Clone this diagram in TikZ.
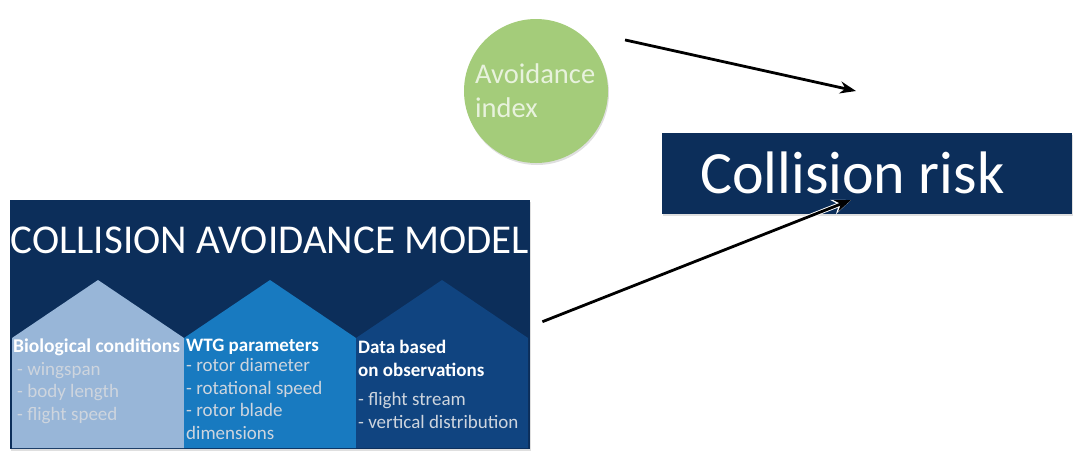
\documentclass[tikz,border=0pt]{standalone}
\usepackage{fontspec}
\setmainfont{Carlito}
\usetikzlibrary{arrows.meta,positioning,shadows}
\definecolor{navy}{RGB}{12,46,90}
\definecolor{bioblue}{RGB}{152,182,216}
\definecolor{wtgblue}{RGB}{24,122,192}
\definecolor{obsblue}{RGB}{16,68,128}
\definecolor{idxgreen}{RGB}{164,204,122}
\tikzset{
  softshadow/.style = {drop shadow={opacity=.25, shadow xshift=1pt, shadow yshift=-2pt}},
  box/.style     = {fill=navy, inner sep=0pt, softshadow},
  coltext/.style = {text=white, align=left, inner sep=0pt,
                    font=\fontsize{19}{22.5}\selectfont},
  arr/.style     = {-{Stealth[length=16pt,width=12pt]}, line width=2.8pt},
  halo/.style    = {-{Stealth[length=19pt,width=15pt]}, line width=4.6pt, white}
}
\newcommand{\itm}[1]{{\color{white!80!navy}#1}}

\begin{document}
\begin{tikzpicture}[x=1pt,y=-1pt]
\useasboundingbox (0,0) rectangle (1075,451);

% avoidance index bubble
\node[circle, fill=idxgreen, minimum size=144pt, inner sep=0pt, softshadow] (idx) at (536,91) {};
% (base of a multi-line node = last line)
\node[text=white, text opacity=.75, align=left, inner sep=0pt, anchor=base west,
      font=\fontsize{28.5}{34}\selectfont] (idxtext) at (475,117) {Avoidance\\index};

% result box
\node[box, anchor=north west, minimum width=410pt, minimum height=81pt] (risk) at (662,133) {};
\node[text=white, anchor=base west, inner sep=0pt,
      font=\fontsize{60}{60}\selectfont] (risktext) at (700,193) {Collision risk};

% model box with the three columns
\node[box, anchor=north west, minimum width=520pt, minimum height=249pt] (model) at (10,200) {};
\node[text=white, anchor=base, inner sep=0pt,
      font=\fontsize{41}{41}\selectfont] (title) at (270,253) {COLLISION AVOIDANCE MODEL};

\foreach \x/\c in {12/bioblue,184/wtgblue,356/obsblue}
  \fill[\c] (\x,448) -- (\x,338) -- (\x+86,280) -- (\x+172,338) -- (\x+172,448) -- cycle;

\node[coltext, anchor=base west] (c1) at (13,420)
  {\textbf{\fontsize{19.5}{22.5}\selectfont Biological conditions}\\
   \itm{\hspace*{4pt}- wingspan}\\
   \itm{\hspace*{4pt}- body length}\\
   \itm{\hspace*{4pt}- flight speed}};
\node[coltext, anchor=base west] (c2) at (186,439)
  {\textbf{WTG parameters}\\[-2.5pt]
   \itm{- rotor diameter}\\
   \itm{- rotational speed}\\
   \itm{- rotor blade}\\
   \itm{dimensions}};
\node[coltext, anchor=base west] (c3) at (358,428)
  {\textbf{Data based}\\
   \textbf{on observations}\\[7pt]
   \itm{- flight stream}\\
   \itm{- vertical distribution}};

% arrows into the result
\coordinate (r1) at (856,91);
\coordinate (r2) at (851,200);
\draw[arr] ([xshift=38pt]idx.north east) -- (r1);
\draw[halo] ([xshift=12pt,yshift=3pt]model.east) -- (r2);
\draw[arr] ([xshift=12pt,yshift=3pt]model.east) -- (r2);

\end{tikzpicture}
\end{document}
